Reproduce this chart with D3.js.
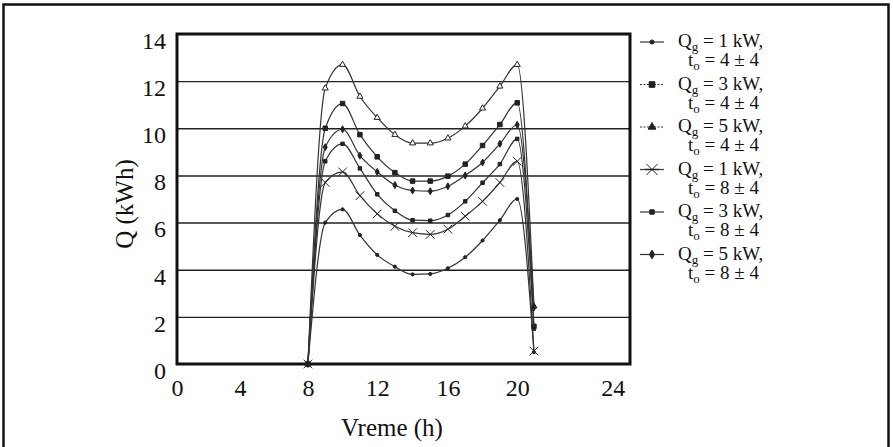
<!DOCTYPE html>
<html>
<head>
<meta charset="utf-8">
<script src="https://cdn.jsdelivr.net/npm/d3@7/dist/d3.min.js"></script>
<style>
    body { margin: 0; background: #fff; }
    text { font-family: "Liberation Serif", "Times New Roman", serif; fill: #111; }
</style>
</head>
<body>
<div id="wrapper"></div>
<script>
// hours of the day (x) and the six series (Q in kWh)
const hours = [8, 9, 10, 11, 12, 13, 14, 15, 16, 17, 18, 19, 20, 20.7];
const q1kw4 = [0, 6.0, 6.56, 5.47, 4.63, 4.13, 3.8, 3.82, 4.06, 4.53, 5.24, 6.1, 7.0, 0.5];
const q3kw4 = [0, 10.0, 11.05, 9.73, 8.79, 8.12, 7.76, 7.76, 7.97, 8.48, 9.27, 10.16, 11.08, 1.6];
const q5kw4 = [0, 11.7, 12.7, 11.35, 10.45, 9.73, 9.37, 9.37, 9.58, 10.09, 10.85, 11.78, 12.7, 2.45];
const q1kw8 = [0, 7.7, 8.15, 7.14, 6.37, 5.84, 5.57, 5.5, 5.72, 6.27, 6.9, 7.7, 8.6, 0.55];
const q3kw8 = [0, 8.6, 9.34, 8.3, 7.2, 6.5, 6.1, 6.08, 6.32, 6.9, 7.69, 8.48, 9.55, 1.5];
const q5kw8 = [0, 9.2, 9.96, 8.84, 8.15, 7.59, 7.36, 7.33, 7.54, 8.0, 8.55, 9.34, 10.15, 2.4];

const legendQ = ["1", "3", "5", "1", "3", "5"];
const legendT = ["4", "4", "4", "8", "8", "8"];

const xTicks = [0, 4, 8, 12, 16, 20, 24];
const yTicks = [0, 2, 4, 6, 8, 10, 12, 14];

function buildPlot() {
    const dimension = {
        width: 893,
        height: 447,
        margin: { top: 34, left: 177, bottom: 83, right: 263 }
    };
    dimension.boundedWidth = dimension.width - dimension.margin.left - dimension.margin.right;
    dimension.boundedHeight = dimension.height - dimension.margin.top - dimension.margin.bottom;

    const svg = d3.select("#wrapper").append("svg")
        .attr("width", dimension.width)
        .attr("height", dimension.height);

    // outer frame of the figure
    svg.append("rect")
        .attr("x", 3.5).attr("y", 4.5)
        .attr("width", 885).attr("height", 480)
        .attr("fill", "none").attr("stroke", "#111").attr("stroke-width", 2.5);

    const bounded = svg.append("g")
        .attr("transform", `translate(${dimension.margin.left},${dimension.margin.top})`);

    // the printed hour axis is not evenly spaced, so use a piecewise scale
    const xFrac = [0, 0.139, 0.289, 0.442, 0.598, 0.751, 0.962];
    const xScaler = d3.scaleLinear()
        .domain(xTicks)
        .range(xFrac.map(f => f * dimension.boundedWidth));

    const yScaler = d3.scaleLinear()
        .domain([0, 14])
        .range([dimension.boundedHeight, 0]);

    // grid lines
    const grid = bounded.append("g")
        .call(d3.axisLeft(yScaler).tickValues(yTicks.slice(1, -1)).tickSize(-dimension.boundedWidth).tickFormat(""));
    grid.select(".domain").remove();
    grid.selectAll("line").attr("stroke", "#222").attr("stroke-width", 1.4);

    // y axis labels
    const yAxis = bounded.append("g")
        .call(d3.axisLeft(yScaler).tickValues(yTicks).tickSize(0).tickPadding(11));
    yAxis.select(".domain").remove();
    yAxis.selectAll("text")
        .attr("dy", "0.6em")
        .style("font-size", "24px")
        .style("font-family", "'Liberation Serif', serif");

    // x axis labels
    const xAxis = bounded.append("g")
        .attr("transform", `translate(0,${dimension.boundedHeight})`)
        .call(d3.axisBottom(xScaler).tickValues(xTicks).tickSize(0).tickPadding(15));
    xAxis.select(".domain").remove();
    xAxis.selectAll("text")
        .style("font-size", "24px")
        .style("font-family", "'Liberation Serif', serif");

    // plot box
    bounded.append("rect")
        .attr("width", dimension.boundedWidth)
        .attr("height", dimension.boundedHeight)
        .attr("fill", "none").attr("stroke", "#111").attr("stroke-width", 3);

    const series = [
        { values: q1kw4, symbol: d3.symbolCircle, size: 8, fill: true },
        { values: q3kw4, symbol: d3.symbolSquare, size: 20, fill: true },
        { values: q5kw4, symbol: d3.symbolTriangle, size: 16, fill: false },
        { values: q1kw8, symbol: d3.symbolTimes, size: 50, fill: false },
        { values: q3kw8, symbol: d3.symbolSquare, size: 12, fill: true },
        { values: q5kw8, symbol: d3.symbolDiamond, size: 14, fill: true }
    ];

    const lineGenerator = d3.line()
        .x((d, i) => xScaler(hours[i]))
        .y(d => yScaler(d))
        .curve(d3.curveMonotoneX);

    const marker = (s, k) => d3.symbol().type(s.symbol).size(s.size * (k || 1))();

    series.forEach(s => {
        bounded.append("path")
            .attr("d", lineGenerator(s.values))
            .attr("fill", "none")
            .attr("stroke", "#333")
            .attr("stroke-width", 1.2);

        bounded.append("g").selectAll("path")
            .data(s.values)
            .join("path")
            .attr("transform", (d, i) => `translate(${xScaler(hours[i])},${yScaler(d)})`)
            .attr("d", marker(s))
            .attr("fill", s.fill ? "#222" : "#fff")
            .attr("stroke", "#222")
            .attr("stroke-width", 1);
    });

    // axis titles
    svg.append("text")
        .attr("x", 392).attr("y", 436)
        .attr("text-anchor", "middle")
        .style("font-size", "25px")
        .text("Vreme (h)");

    svg.append("text")
        .attr("transform", "translate(133,204) rotate(-90)")
        .attr("text-anchor", "middle")
        .style("font-size", "25px")
        .text("Q (kWh)");

    // legend
    const legend = svg.append("g");
    series.forEach((s, i) => {
        const cy = 42 + i * 42.5;
        const row = legend.append("g").attr("transform", `translate(0,${cy})`);
        row.append("line")
            .attr("x1", 640).attr("x2", 664)
            .attr("stroke", "#333").attr("stroke-width", 1.2)
            .attr("stroke-dasharray", i === 1 || i === 2 ? "2,1.5" : null);
        row.append("path")
            .attr("transform", "translate(652,0)")
            .attr("d", marker(s, 1.6))
            .attr("fill", "#222")
            .attr("stroke", "#222").attr("stroke-width", 1);
        if (i === 3) {
            row.append("line")
                .attr("x1", 645).attr("x2", 659)
                .attr("stroke", "#222").attr("stroke-width", 1.4);
        }

        const t1 = row.append("text").attr("x", 678).attr("y", 5).style("font-size", "19px");
        t1.append("tspan").text("Q");
        t1.append("tspan").attr("dy", 4).style("font-size", "13px").text("g");
        t1.append("tspan").attr("dy", -4).text(` = ${legendQ[i]} kW,`);

        const t2 = row.append("text").attr("x", 688).attr("y", 24).style("font-size", "19px");
        t2.append("tspan").text("t");
        t2.append("tspan").attr("dy", 4).style("font-size", "13px").text("o");
        t2.append("tspan").attr("dy", -4).text(` = ${legendT[i]} ± 4`);
    });
}

buildPlot();
</script>
</body>
</html>
